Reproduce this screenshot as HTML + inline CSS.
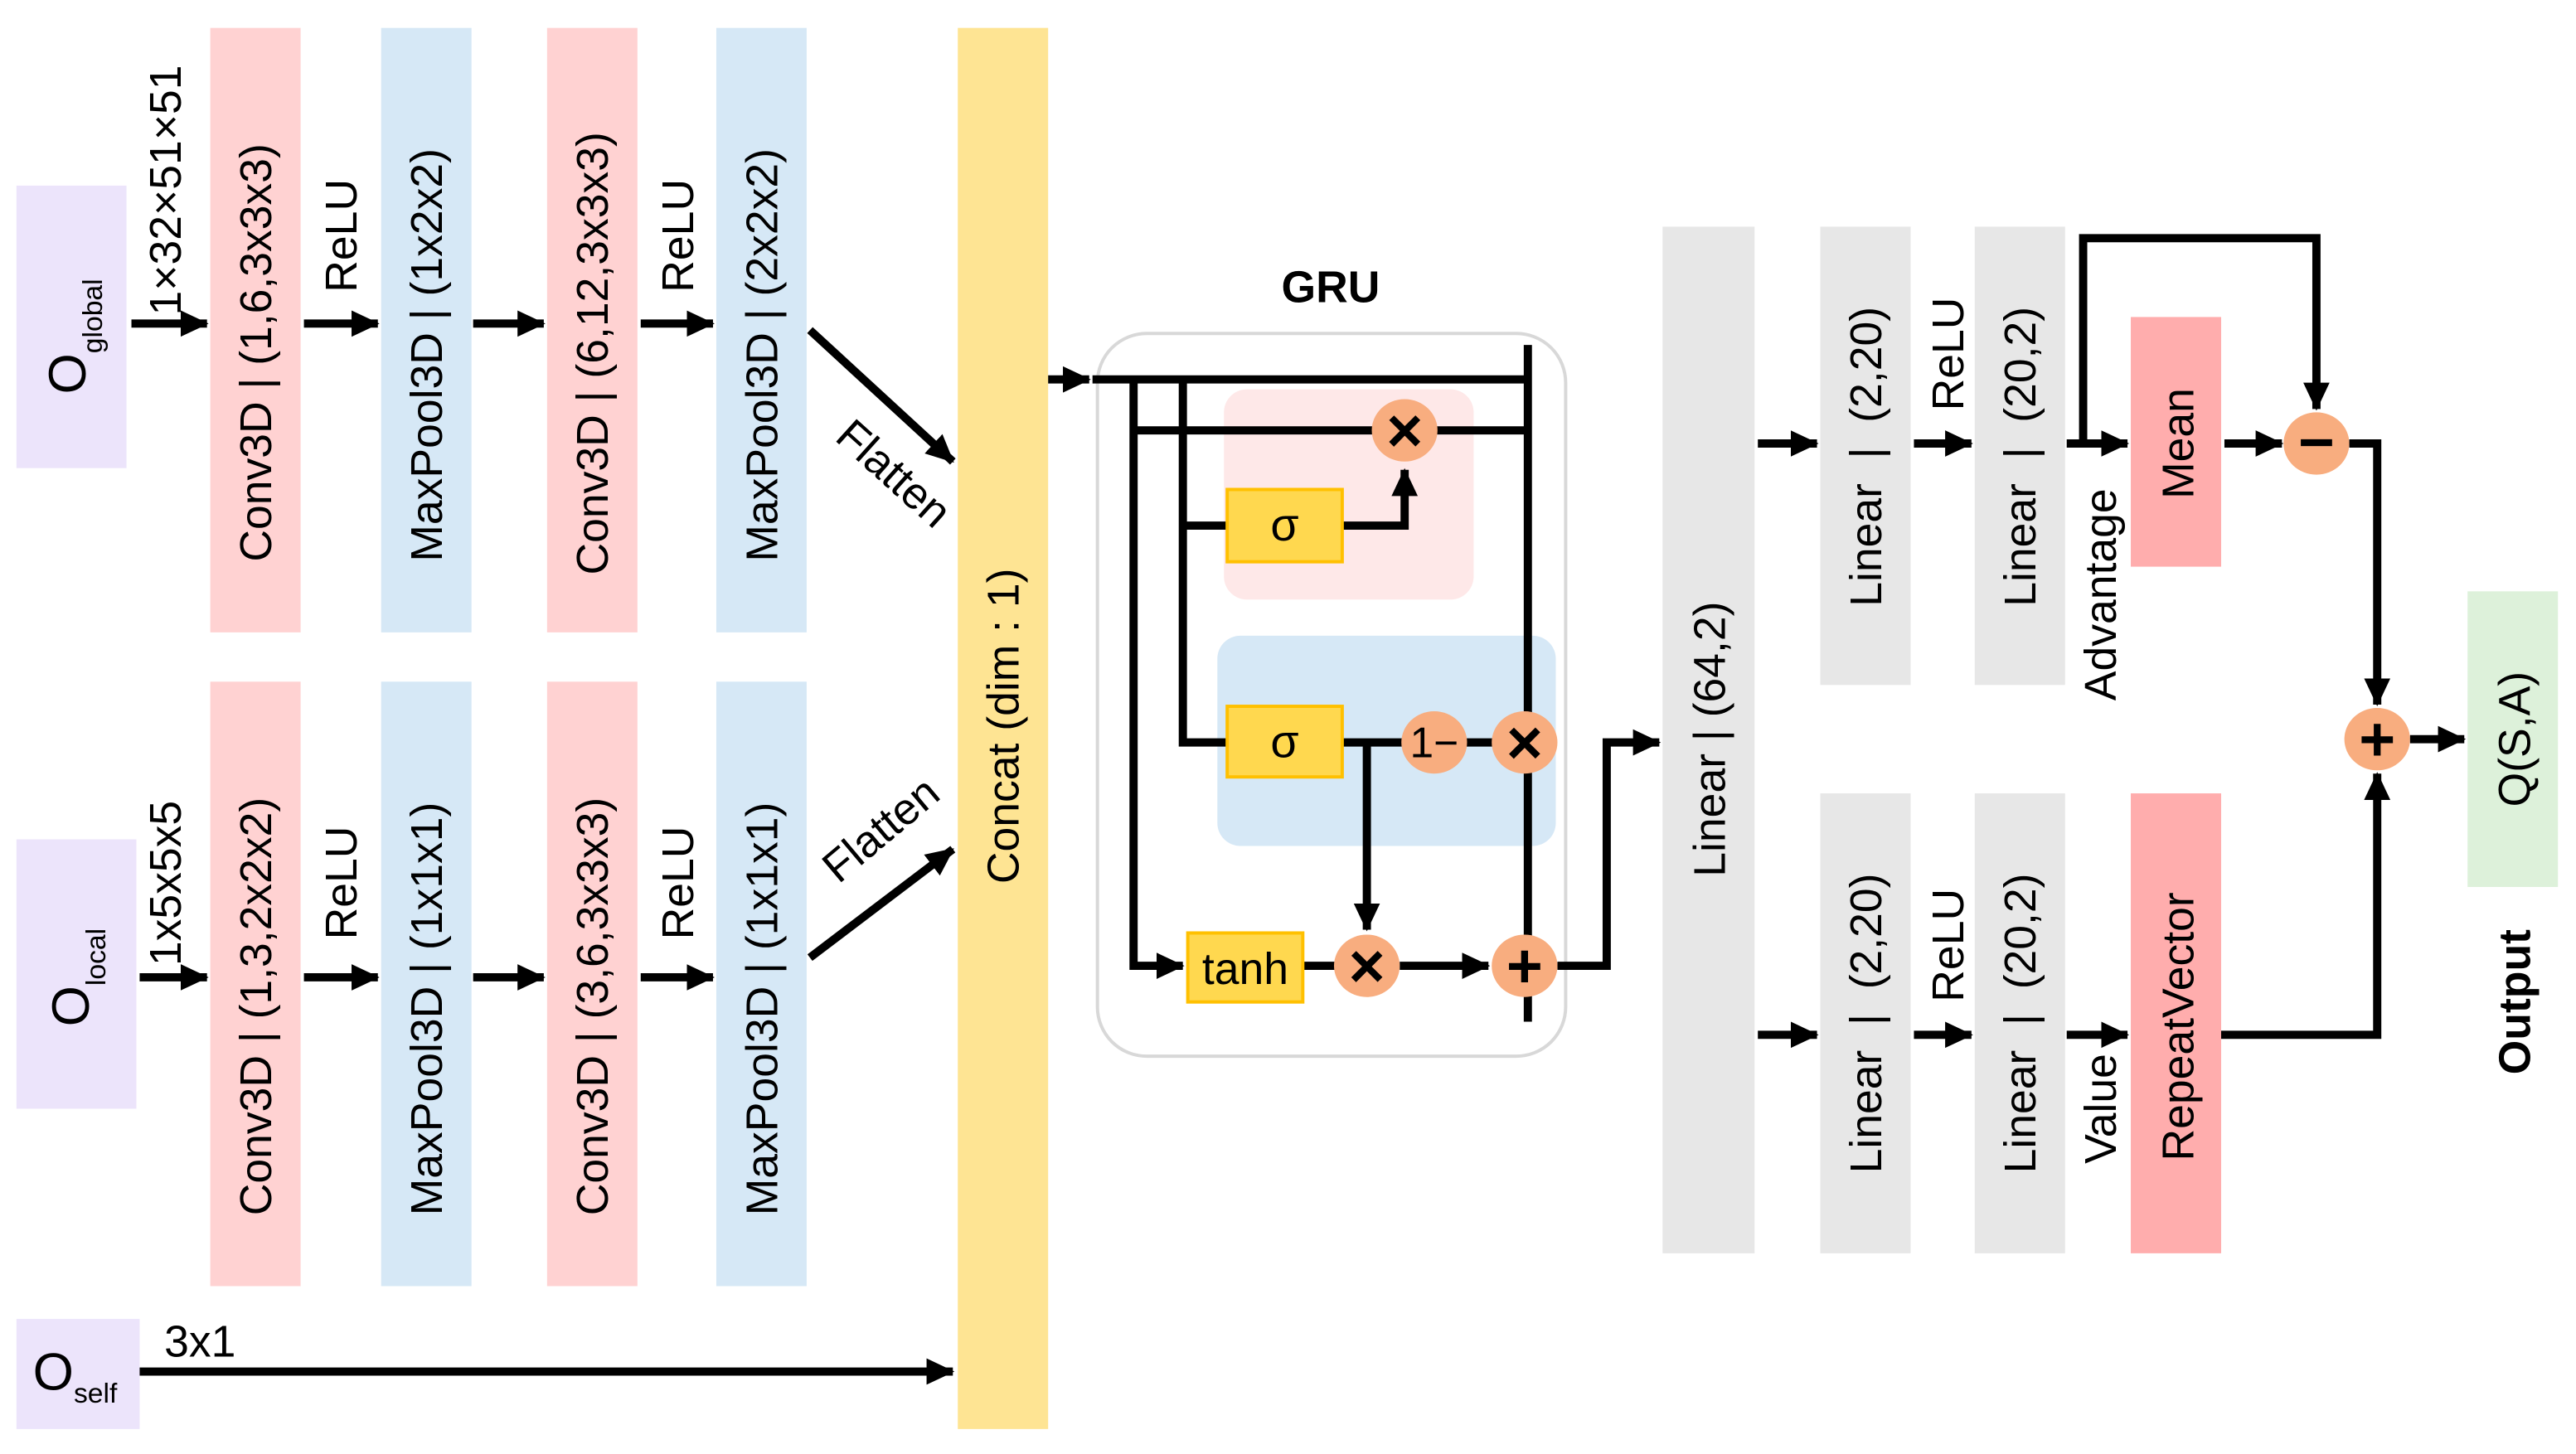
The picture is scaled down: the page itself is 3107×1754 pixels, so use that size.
<!DOCTYPE html>
<html><head><meta charset="utf-8"><style>html,body{margin:0;padding:0;background:#fff}svg{display:block}</style></head><body>
<svg width="3107" height="1754" viewBox="0 0 1568 885.2" preserveAspectRatio="none" xmlns="http://www.w3.org/2000/svg" font-family="Liberation Sans, DejaVu Sans, sans-serif">
<defs>
<marker id="a" markerUnits="userSpaceOnUse" markerWidth="18" markerHeight="18" refX="16" refY="9" orient="auto"><path d="M0,1 L17,9 L0,17 Z" fill="#000"/></marker>
</defs>
<g>
<rect x="10" y="113" width="67" height="172" fill="#ece4fb"/>
<rect x="10" y="511" width="73" height="164" fill="#ece4fb"/>
<rect x="10" y="803" width="75" height="67" fill="#ece4fb"/>
<rect x="128" y="17" width="55" height="368" fill="#ffd2d2"/>
<rect x="232" y="17" width="55" height="368" fill="#d6e8f6"/>
<rect x="333" y="17" width="55" height="368" fill="#ffd2d2"/>
<rect x="436" y="17" width="55" height="368" fill="#d6e8f6"/>
<rect x="128" y="415" width="55" height="368" fill="#ffd2d2"/>
<rect x="232" y="415" width="55" height="368" fill="#d6e8f6"/>
<rect x="333" y="415" width="55" height="368" fill="#ffd2d2"/>
<rect x="436" y="415" width="55" height="368" fill="#d6e8f6"/>
<rect x="583" y="17" width="55" height="853" fill="#fee493"/>
<rect x="1012" y="138" width="56" height="625" fill="#e7e7e7"/>
<rect x="1108" y="138" width="55" height="279" fill="#e7e7e7"/>
<rect x="1202" y="138" width="55" height="279" fill="#e7e7e7"/>
<rect x="1108" y="483" width="55" height="280" fill="#e7e7e7"/>
<rect x="1202" y="483" width="55" height="280" fill="#e7e7e7"/>
<rect x="1297" y="193" width="55" height="152" fill="#ffadad"/>
<rect x="1297" y="483" width="55" height="280" fill="#ffadad"/>
<rect x="1502" y="360" width="55" height="180" fill="#ddf1da"/>
</g>
<rect x="668" y="203" width="285" height="440" rx="30" fill="#fff" stroke="#d8d8d8" stroke-width="2"/>
<rect x="745" y="237" width="152" height="128" rx="14" fill="#fee8e8"/>
<rect x="741" y="387" width="206" height="128" rx="14" fill="#d6e8f6"/>
<g stroke="#000" stroke-width="5" fill="none">
<line x1="638" y1="231" x2="663" y2="231" marker-end="url(#a)"/>
<line x1="665" y1="231" x2="930" y2="231"/>
<line x1="930" y1="210" x2="930" y2="622"/>
<polyline points="690,231 690,588 720,588" marker-end="url(#a)"/>
<line x1="690" y1="262" x2="930" y2="262"/>
<polyline points="720,231 720,452 747,452"/>
<line x1="720" y1="320" x2="747" y2="320"/>
<polyline points="817,320 855,320 855,286" marker-end="url(#a)"/>
<line x1="817" y1="452" x2="928" y2="452"/>
<line x1="832" y1="452" x2="832" y2="566" marker-end="url(#a)"/>
<line x1="793" y1="588" x2="832" y2="588"/>
<line x1="852" y1="588" x2="906" y2="588" marker-end="url(#a)"/>
<polyline points="948,588 978,588 978,452 1010,452" marker-end="url(#a)"/>
</g>
<g fill="#ffd84f" stroke="#ffc000" stroke-width="2">
<rect x="747" y="298" width="70" height="44"/>
<rect x="747" y="430" width="70" height="43"/>
<rect x="723" y="568" width="70" height="42"/>
</g>
<g fill="#f8ad7f">
<ellipse cx="855" cy="262" rx="20" ry="19"/>
<ellipse cx="873" cy="452" rx="20" ry="19"/>
<ellipse cx="928" cy="452" rx="20" ry="19"/>
<ellipse cx="832" cy="588" rx="20" ry="19"/>
<ellipse cx="928" cy="588" rx="20" ry="19"/>
<ellipse cx="1410" cy="270" rx="20" ry="19"/>
<ellipse cx="1447" cy="450" rx="20" ry="19"/>
</g>
<g font-size="38" font-weight="bold" text-anchor="middle" fill="#000">
<text x="855" y="275">×</text>
<text x="928" y="465">×</text>
<text x="832" y="601">×</text>
<text x="928" y="601">+</text>
<text x="1410" y="282">−</text>
<text x="1447" y="463">+</text>
</g>
<g font-size="26" text-anchor="middle" fill="#000">
<text x="873" y="461">1−</text>
<text x="782" y="329" font-size="28">σ</text>
<text x="782" y="461" font-size="28">σ</text>
<text x="758" y="599" font-size="27">tanh</text>
</g>
<text x="810" y="184" font-size="27" font-weight="bold" text-anchor="middle">GRU</text>
<g stroke="#000" stroke-width="5" fill="none">
<line x1="80" y1="197" x2="126" y2="197" marker-end="url(#a)"/>
<line x1="185" y1="197" x2="230" y2="197" marker-end="url(#a)"/>
<line x1="288" y1="197" x2="331" y2="197" marker-end="url(#a)"/>
<line x1="390" y1="197" x2="434" y2="197" marker-end="url(#a)"/>
<line x1="493" y1="201" x2="580" y2="281" marker-end="url(#a)"/>
<line x1="85" y1="595" x2="126" y2="595" marker-end="url(#a)"/>
<line x1="185" y1="595" x2="230" y2="595" marker-end="url(#a)"/>
<line x1="288" y1="595" x2="331" y2="595" marker-end="url(#a)"/>
<line x1="390" y1="595" x2="434" y2="595" marker-end="url(#a)"/>
<line x1="493" y1="583" x2="580" y2="517" marker-end="url(#a)"/>
<line x1="85" y1="835" x2="580" y2="835" marker-end="url(#a)"/>
<line x1="1070" y1="270" x2="1106" y2="270" marker-end="url(#a)"/>
<line x1="1165" y1="270" x2="1200" y2="270" marker-end="url(#a)"/>
<line x1="1258" y1="270" x2="1295" y2="270" marker-end="url(#a)"/>
<line x1="1354" y1="270" x2="1389" y2="270" marker-end="url(#a)"/>
<polyline points="1268,270 1268,145 1410,145 1410,249" marker-end="url(#a)"/>
<polyline points="1430,270 1447,270 1447,429" marker-end="url(#a)"/>
<line x1="1070" y1="630" x2="1106" y2="630" marker-end="url(#a)"/>
<line x1="1165" y1="630" x2="1200" y2="630" marker-end="url(#a)"/>
<line x1="1258" y1="630" x2="1295" y2="630" marker-end="url(#a)"/>
<polyline points="1352,630 1447,630 1447,471" marker-end="url(#a)"/>
<line x1="1467" y1="450" x2="1500" y2="450" marker-end="url(#a)"/>
</g>
<g font-size="27" fill="#000">
<text transform="translate(165,342) rotate(-90)">Conv3D | (1,6,3x3x3)</text>
<text transform="translate(269,342) rotate(-90)">MaxPool3D | (1x2x2)</text>
<text transform="translate(370,350) rotate(-90)">Conv3D | (6,12,3x3x3)</text>
<text transform="translate(473,342) rotate(-90)">MaxPool3D | (2x2x2)</text>
<text transform="translate(165,740) rotate(-90)">Conv3D | (1,3,2x2x2)</text>
<text transform="translate(269,740) rotate(-90)">MaxPool3D | (1x1x1)</text>
<text transform="translate(370,740) rotate(-90)">Conv3D | (3,6,3x3x3)</text>
<text transform="translate(473,740) rotate(-90)">MaxPool3D | (1x1x1)</text>
<text transform="translate(620,442) rotate(-90)" text-anchor="middle">Concat (dim : 1)</text>
<text transform="translate(1050,450) rotate(-90)" text-anchor="middle">Linear | (64,2)</text>
<text transform="translate(1145,278) rotate(-90)" text-anchor="middle" xml:space="preserve">Linear  |  (2,20)</text>
<text transform="translate(1239,278) rotate(-90)" text-anchor="middle" xml:space="preserve">Linear  |  (20,2)</text>
<text transform="translate(1145,623) rotate(-90)" text-anchor="middle" xml:space="preserve">Linear  |  (2,20)</text>
<text transform="translate(1239,623) rotate(-90)" text-anchor="middle" xml:space="preserve">Linear  |  (20,2)</text>
<text transform="translate(1335,270) rotate(-90)" text-anchor="middle">Mean</text>
<text transform="translate(1335,625) rotate(-90)" text-anchor="middle">RepeatVector</text>
<text transform="translate(1540,450) rotate(-90)" text-anchor="middle">Q(S,A)</text>
<text transform="translate(1540,610) rotate(-90)" text-anchor="middle" font-weight="bold">Output</text>
<text transform="translate(1288,362) rotate(-90)" text-anchor="middle">Advantage</text>
<text transform="translate(1288,675) rotate(-90)" text-anchor="middle">Value</text>
<text transform="translate(1195,250) rotate(-90)">ReLU</text>
<text transform="translate(1195,610) rotate(-90)">ReLU</text>
<text transform="translate(217,178) rotate(-90)">ReLU</text>
<text transform="translate(422,178) rotate(-90)">ReLU</text>
<text transform="translate(217,572) rotate(-90)">ReLU</text>
<text transform="translate(422,572) rotate(-90)">ReLU</text>
<text transform="translate(110,192) rotate(-90)">1×32×51×51</text>
<text transform="translate(110,588) rotate(-90)">1x5x5x5</text>
<text transform="translate(52,240) rotate(-90)" font-size="32">O<tspan font-size="17" dy="10">global</tspan></text>
<text transform="translate(54,625) rotate(-90)" font-size="32">O<tspan font-size="17" dy="10">local</tspan></text>
<text x="20" y="846" font-size="32">O<tspan font-size="17" dy="8">self</tspan></text>
<text x="100" y="826">3x1</text>
<text transform="translate(538,295) rotate(42)" text-anchor="middle">Flatten</text>
<text transform="translate(542,512) rotate(-40)" text-anchor="middle">Flatten</text>
</g>
</svg>
</body></html>
